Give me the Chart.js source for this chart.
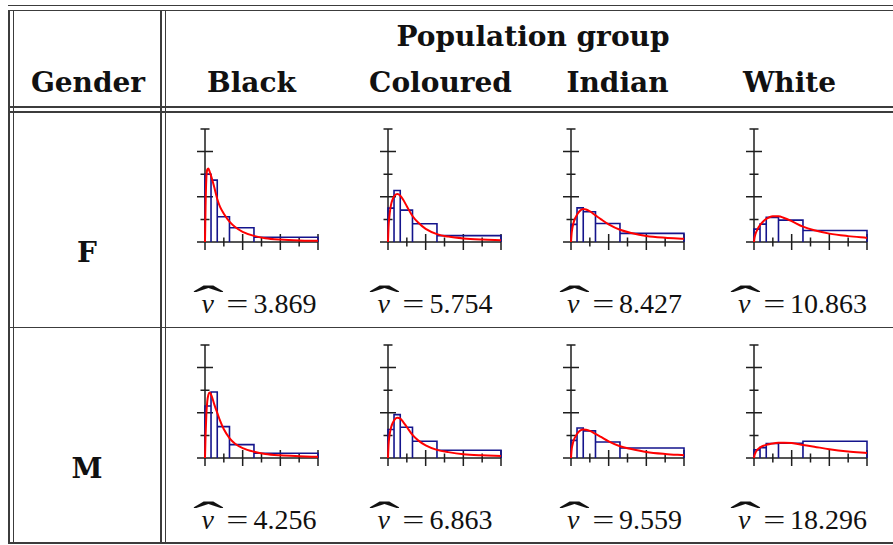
<!DOCTYPE html>
<html>
<head>
<meta charset="utf-8">
<script src="https://cdn.jsdelivr.net/npm/chart.js@4.4.0/dist/chart.umd.min.js"></script>
<style>
  body { margin: 0; background: #fff; }
  #page { position: relative; width: 893px; height: 545px; overflow: hidden; background: #fff; }
  .hl, .vl { position: absolute; background: #3c3c3c; }
  .hl { height: 1.5px; }
  .vl { width: 1.5px; }
  .hd { position: absolute; font-family: "DejaVu Serif", serif; font-weight: bold; font-size: 28px;
        line-height: 1; white-space: nowrap; transform: translateX(-50%); color: #111; }
  .nu { position: absolute; font-family: "Liberation Serif", serif; font-size: 28px;
        line-height: 1; white-space: nowrap; transform: translateX(-50%); color: #111; }
  .nu .v { position: relative; font-style: italic; margin-right: 12px; }
  .nu .hat { position: absolute; left: 50%; top: -4px; line-height: 1;
             transform-origin: 50% 6.75px; transform: translateX(-40%) scale(3.3, 1.5);
             font-style: normal; }
  .nu .eq { display: inline-block; transform: scaleX(1.4); margin: 0 8px 0 4px; }
  canvas { position: absolute; }
</style>
</head>
<body>
<div id="page"></div>
<script>
const groups = ['Black', 'Coloured', 'Indian', 'White'];
const genders = ['F', 'M'];
const nuF = [3.869, 5.754, 8.427, 10.863];
const nuM = [4.256, 6.863, 9.559, 18.296];

// histogram bin edges and axis ticks (same for every panel)
const binEdges = [0, 0.32, 0.65, 1.3, 2.6, 6];
const xTicks = [0, 1, 2, 3, 4, 5, 6];
const yTicks = [0, 1, 2, 3, 4, 5];

// bar heights per bin
const histBlackF = [3.0, 2.74, 1.12, 0.63, 0.21];
const histColouredF = [1.5, 2.28, 1.41, 0.81, 0.28];
const histIndianF = [0.78, 1.51, 1.34, 0.82, 0.38];
const histWhiteF = [0.57, 0.79, 1.09, 0.97, 0.51];
const histBlackM = [2.3, 2.92, 1.39, 0.59, 0.21];
const histColouredM = [1.26, 1.92, 1.36, 0.74, 0.34];
const histIndianM = [0.78, 1.33, 1.2, 0.71, 0.44];
const histWhiteM = [0.36, 0.46, 0.64, 0.65, 0.74];

// fitted density, sampled at curveX
const curveX = [0, 0.03, 0.07, 0.12, 0.18, 0.25, 0.35, 0.5, 0.65, 0.8, 1.0, 1.3, 1.6, 2.0, 2.6, 3.2, 4.0, 5.0, 6.0];
const fitBlackF = [0, 1.6, 2.8, 3.2, 3.25, 3.1, 2.85, 2.4, 1.9, 1.55, 1.25, 0.9, 0.66, 0.45, 0.27, 0.17, 0.11, 0.07, 0.05];
const fitColouredF = [0, 0.7, 1.1, 1.45, 1.72, 1.9, 2.05, 2.12, 2.05, 1.88, 1.58, 1.15, 0.86, 0.58, 0.35, 0.24, 0.16, 0.11, 0.08];
const fitIndianF = [0, 0.35, 0.6, 0.8, 0.98, 1.1, 1.25, 1.4, 1.46, 1.44, 1.36, 1.18, 1.0, 0.78, 0.54, 0.4, 0.27, 0.19, 0.14];
const fitWhiteF = [0, 0.2, 0.33, 0.45, 0.55, 0.66, 0.78, 0.92, 1.02, 1.09, 1.14, 1.14, 1.06, 0.92, 0.68, 0.52, 0.37, 0.26, 0.18];
const fitBlackM = [0, 1.0, 1.9, 2.5, 2.8, 2.9, 2.75, 2.35, 2.0, 1.65, 1.27, 0.88, 0.63, 0.44, 0.28, 0.18, 0.12, 0.08, 0.05];
const fitColouredM = [0, 0.6, 0.95, 1.2, 1.4, 1.55, 1.7, 1.78, 1.74, 1.6, 1.37, 1.02, 0.78, 0.56, 0.36, 0.26, 0.17, 0.12, 0.09];
const fitIndianM = [0, 0.35, 0.55, 0.72, 0.86, 0.97, 1.1, 1.22, 1.26, 1.25, 1.2, 1.07, 0.93, 0.74, 0.52, 0.4, 0.27, 0.18, 0.12];
const fitWhiteM = [0, 0.13, 0.22, 0.3, 0.37, 0.42, 0.48, 0.54, 0.58, 0.61, 0.64, 0.67, 0.68, 0.66, 0.58, 0.5, 0.39, 0.29, 0.22];

const hists = { F: [histBlackF, histColouredF, histIndianF, histWhiteF], M: [histBlackM, histColouredM, histIndianM, histWhiteM] };
const fits = { F: [fitBlackF, fitColouredF, fitIndianF, fitWhiteF], M: [fitBlackM, fitColouredM, fitIndianM, fitWhiteM] };
const nus = { F: nuF, M: nuM };

const page = document.getElementById('page');

function line(cls, left, top, len) {
  const d = document.createElement('div');
  d.className = cls;
  d.style.left = left + 'px';
  d.style.top = top + 'px';
  if (cls === 'hl') d.style.width = len + 'px'; else d.style.height = len + 'px';
  page.appendChild(d);
}

function text(cls, html, cx, top) {
  const d = document.createElement('div');
  d.className = cls;
  d.innerHTML = html;
  d.style.left = cx + 'px';
  d.style.top = top + 'px';
  page.appendChild(d);
}

// table rules
[4.5, 9.5, 106, 111, 326.5, 542].forEach(y => line('hl', 8, y, 885));
[8, 12.5, 160, 164.5].forEach(x => line('vl', x, 9.5, 534));

// header
text('hd', 'Population group', 533, 22.5);
text('hd', 'Gender', 88, 68.5);
const headCx = [251.5, 440.5, 617.5, 789.5];
groups.forEach((g, i) => text('hd', g, headCx[i], 68.5));

// crossing axes with alternating long / short ticks
const crossAxes = {
  id: 'crossAxes',
  beforeDatasetsDraw(chart) {
    const { ctx, scales: { x, y } } = chart;
    const x0 = x.getPixelForValue(0), y0 = y.getPixelForValue(0);
    ctx.save();
    ctx.strokeStyle = '#1e1e1e';
    ctx.lineWidth = 1.5;
    ctx.beginPath();
    ctx.moveTo(x0, y0); ctx.lineTo(x.getPixelForValue(xTicks[xTicks.length - 1]), y0);
    ctx.moveTo(x0, y0); ctx.lineTo(x0, y.getPixelForValue(yTicks[yTicks.length - 1]));
    xTicks.forEach(v => {
      const px = x.getPixelForValue(v), len = v % 2 === 0 ? 8 : 4.5;
      ctx.moveTo(px, y0 - len); ctx.lineTo(px, y0 + len);
    });
    yTicks.forEach(v => {
      const py = y.getPixelForValue(v), len = v % 2 === 0 ? 8 : 4.5;
      ctx.moveTo(x0 - len, py); ctx.lineTo(x0 + len, py);
    });
    ctx.stroke();
    ctx.restore();
  }
};

function outline(heights) {
  const pts = [];
  heights.forEach((h, i) => {
    pts.push({ x: binEdges[i], y: 0 }, { x: binEdges[i], y: h },
             { x: binEdges[i + 1], y: h }, { x: binEdges[i + 1], y: 0 },
             { x: binEdges[i + 1], y: null });
  });
  return pts;
}

const axisLeft = [185, 368, 551, 734];
const rowTop = { F: 117, M: 333 };
const labelTop = { F: 289.5, M: 505.5 };
const genderTop = { F: 238.5, M: 454.5 };
const labelCx = [259, 435, 624.5, 802.5];

genders.forEach(g => {
  text('hd', g, 87, genderTop[g]);
  groups.forEach((grp, i) => {
    const cv = document.createElement('canvas');
    cv.width = 150; cv.height = 140;
    cv.style.left = axisLeft[i] + 'px';
    cv.style.top = rowTop[g] + 'px';
    page.appendChild(cv);

    new Chart(cv, {
      type: 'line',
      data: {
        datasets: [
          {
            data: curveX.map((x, k) => ({ x, y: fits[g][i][k] })),
            borderColor: '#ff0000', borderWidth: 2, pointRadius: 0,
            cubicInterpolationMode: 'monotone', clip: false
          },
          {
            data: outline(hists[g][i]),
            borderColor: '#14148c', borderWidth: 1.6, pointRadius: 0,
            tension: 0, spanGaps: false, clip: false
          }
        ]
      },
      options: {
        responsive: false,
        animation: false,
        events: [],
        layout: { padding: { left: 20, right: 17, top: 12, bottom: 15 } },
        scales: {
          x: { type: 'linear', min: 0, max: 6, display: false },
          y: { min: 0, max: 5, display: false }
        },
        plugins: { legend: { display: false }, tooltip: { enabled: false } }
      },
      plugins: [crossAxes]
    });

    text('nu', '<span class="v">&nu;<span class="hat">&#x2C6;</span></span><span class="eq">=</span>' + nus[g][i].toFixed(3),
         labelCx[i], labelTop[g]);
  });
});
</script>
</body>
</html>
